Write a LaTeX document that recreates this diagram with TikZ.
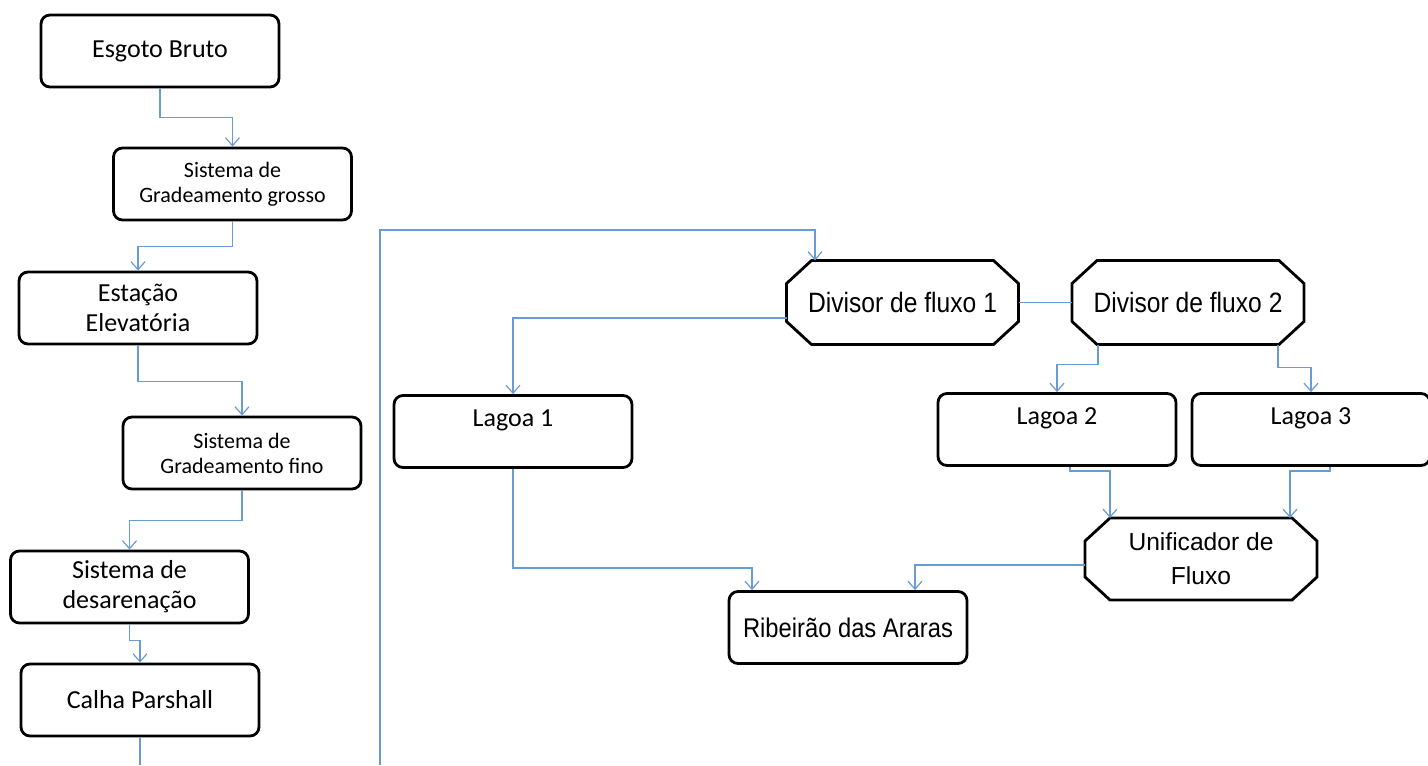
\documentclass[tikz,border=0pt]{standalone}
\usepackage{fontspec}
\usetikzlibrary{arrows.meta}
\newfontfamily\carlito{Carlito}
\newfontfamily\arialf{Liberation Sans}
\newfontfamily\arialn{Liberation Sans}[FakeStretch=0.88]
\definecolor{flowblue}{RGB}{105,155,215}

\begin{document}
\begin{tikzpicture}
[x=0.5pt,y=-0.5pt,
 box/.style={draw,line width=1.4pt,rounded corners=4.5pt,minimum width=119pt,minimum height=36pt,align=center,inner sep=1pt,font=\carlito\fontsize{13}{15}\selectfont},
 small/.style={font=\carlito\fontsize{11}{12.5}\selectfont},
 oct/.style={minimum width=116pt,minimum height=42pt,outer sep=0pt,align=center,inner sep=1pt,font=\arialn\fontsize{14}{15}\selectfont},
 octline/.style={line width=1.4pt,line join=miter},
 flow/.style={draw=flowblue,line width=0.6pt},
 arr/.style={flow,-{Straight Barb[length=4pt,width=7pt]}}]

  \useasboundingbox (0,0) rectangle (1428,765);

  \node (n1) at (160,51) [box] {Esgoto Bruto};
  \node (n2) at (232.5,184) [box,small] {Sistema de\\Gradeamento grosso};
  \node (n3) at (138,308) [box] {Estação\\Elevatória};
  \node (n4) at (242,453) [box,small] {Sistema de\\Gradeamento fino};
  \node (n5) at (129.5,587) [box] {Sistema de\\desarenação};
  \node (n6) at (140,700) [box] {Calha Parshall};

  \node (d1) at (902.5,302.5) [oct] {Divisor de fluxo 1};
  \node (d2) at (1188,302.5) [oct] {Divisor de fluxo 2};
  \node (l1) at (513,431.5) [box] {Lagoa 1\\[-2pt]\mbox{}};
  \node (l2) at (1057,429.5) [box] {Lagoa 2\\[-2pt]\mbox{}};
  \node (l3) at (1311,429.5) [box] {Lagoa 3\\[-2pt]\mbox{}};
  \node (u) at (1201,559) [oct,minimum height=41pt,font=\arialf\fontsize{12.3}{17}\selectfont] {Unificador de\\Fluxo};
  \node (r) at (848,627.5) [box,font=\arialn\fontsize{13.5}{15}\selectfont] {Ribeirão das Araras};

  \foreach \n in {d1,d2,u}
    \draw[octline] ([xshift=12.5pt]\n.north west) -- ([xshift=-12.5pt]\n.north east)
      -- ([yshift=-11.5pt]\n.north east) -- ([yshift=11.5pt]\n.south east)
      -- ([xshift=-12.5pt]\n.south east) -- ([xshift=12.5pt]\n.south west)
      -- ([yshift=11.5pt]\n.south west) -- ([yshift=-11.5pt]\n.north west) -- cycle;

  \coordinate (c1) at (140,765);
  \coordinate (c2) at (380,765);

  \foreach \from/\to/\d in {n1/n2/29,n2/n3/25,n3/n4/36,n4/n5/30,n5/n6/16}
    \draw[arr] (\from.south) -- ++(0,\d) -| (\to.north);

  \draw[flow] (n6.south) -- (c1);
  \draw[arr] (c2) |- (815,230) -- (815,0 |- d1.north);
  \draw[flow] (d1.east) -- (d2.west);
  \draw[arr] (d1.west |- 0,318) -| (l1.north);
  \draw[arr] (1098,0 |- d2.south) -- ++(0,20) -| (l2.north);
  \draw[arr] (1278,0 |- d2.south) -- ++(0,23) -| (l3.north);
  \draw[arr] (1070,0 |- l2.south) -- ++(0,4) -| (1110,0 |- u.north);
  \draw[arr] (1330,0 |- l3.south) -- ++(0,4) -| (1290,0 |- u.north);
  \draw[arr] (u.west |- 0,565) -| (915,0 |- r.north);
  \draw[arr] (l1.south) |- (752,568) -- (752,0 |- r.north);

\end{tikzpicture}
\end{document}
